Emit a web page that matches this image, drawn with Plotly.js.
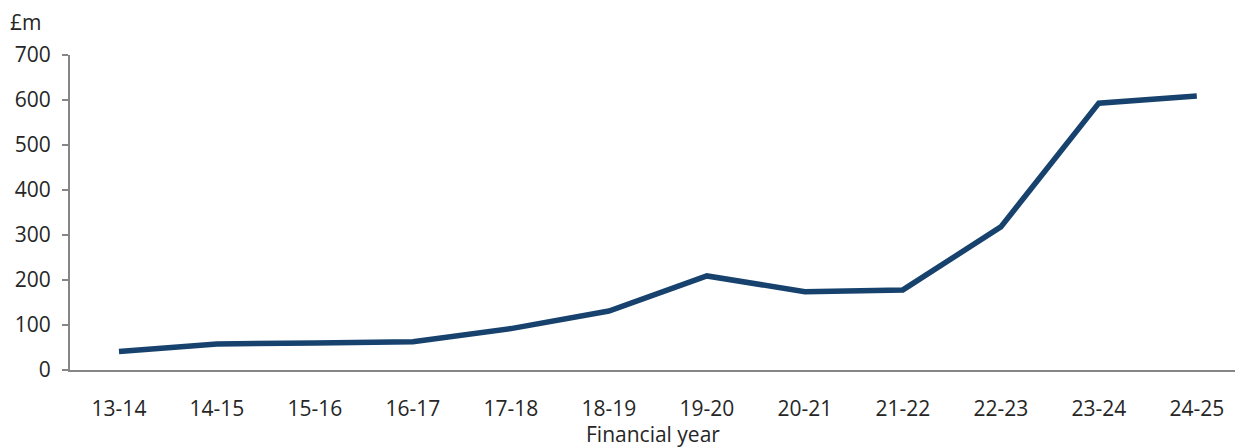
<!DOCTYPE html>
<html>
<head>
<meta charset="utf-8">
<script src="https://cdn.plot.ly/plotly-3.0.1.min.js"></script>
<style>html,body{margin:0;padding:0;background:#fff;}#chart{width:1235px;height:447px;}</style>
</head>
<body>
<div id="chart"></div>
<script>
const categories = ["13-14","14-15","15-16","16-17","17-18","18-19","19-20","20-21","21-22","22-23","23-24","24-25"];
const values = [41, 58, 60, 63, 92, 131, 209, 174, 178, 318, 593, 609];
const yTicks = [0, 100, 200, 300, 400, 500, 600, 700];
const unitLabel = "£m";
const xTitle = "Financial year";

const font = {family: "Open Sans, Noto Sans, sans-serif", size: 21, color: "#262626"};

const trace = {
  x: categories.map((c, i) => i),
  y: values,
  type: "scatter",
  mode: "lines",
  line: {color: "#17426E", width: 5.5},
  hoverinfo: "skip"
};

const layout = {
  width: 1235, height: 447,
  margin: {l: 70, r: 0, t: 55, b: 77},
  paper_bgcolor: "#fff", plot_bgcolor: "#fff",
  font: font,
  showlegend: false,
  xaxis: {
    range: [-0.5, 11.39],
    tickmode: "array",
    tickvals: categories.map((c, i) => i),
    ticktext: categories,
    showgrid: false, zeroline: false,
    showline: true, linecolor: "#868686", linewidth: 2,
    ticks: "", ticklabelstandoff: 19,
    tickfont: font
  },
  yaxis: {
    range: [0, 700],
    tickvals: yTicks,
    showgrid: false, zeroline: false,
    showline: true, linecolor: "#868686", linewidth: 2,
    ticks: "outside", ticklen: 6, tickwidth: 2, tickcolor: "#868686",
    ticklabelstandoff: 7,
    tickfont: font
  },
  annotations: [
    {text: unitLabel, xref: "paper", yref: "paper", x: -0.0386, y: 1.105, xanchor: "center", yanchor: "middle", showarrow: false, font: font},
    {text: xTitle, xref: "paper", yref: "paper", x: 0.5, y: -0.152, xanchor: "center", yanchor: "top", showarrow: false, font: font}
  ]
};

Plotly.newPlot("chart", [trace], layout, {displayModeBar: false, staticPlot: true});
</script>
</body>
</html>
